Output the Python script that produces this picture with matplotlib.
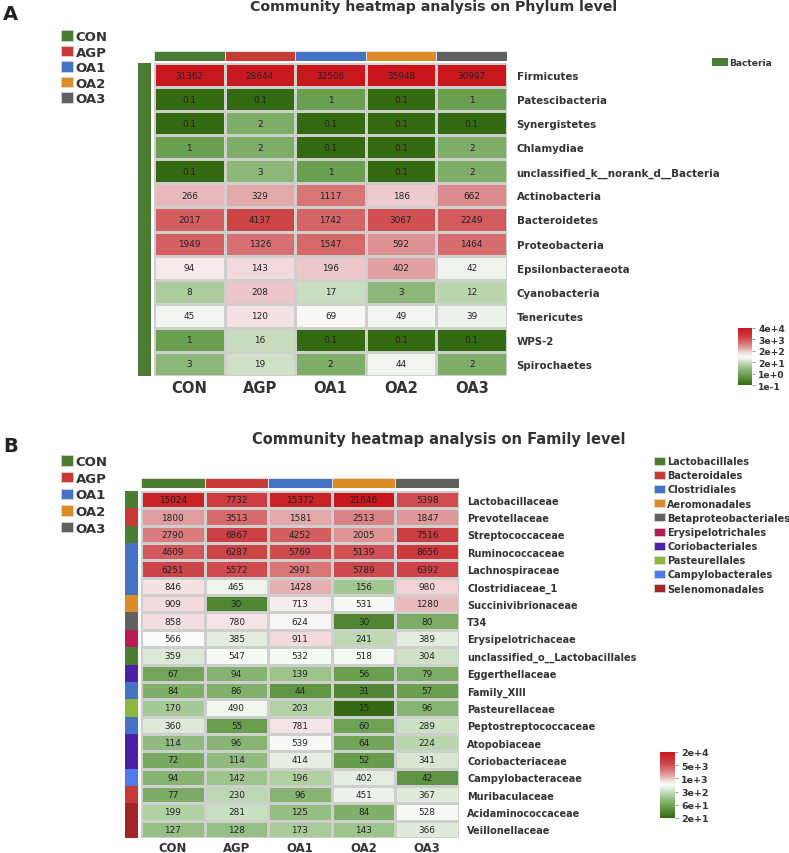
import numpy as np
import matplotlib
matplotlib.use("Agg")
import matplotlib.pyplot as plt
from matplotlib.colors import LinearSegmentedColormap, ListedColormap, LogNorm
from matplotlib.patches import Patch

# wide sans to match the horizontally stretched lettering of the original
plt.rcParams["font.family"] = ["DejaVu Sans"]

# ---- data ----
groups = ["CON", "AGP", "OA1", "OA2", "OA3"]
group_colors = ["#4a7d32", "#c83a36", "#4472c4", "#dc8c24", "#606060"]

phylum_names = ["Firmicutes", "Patescibacteria", "Synergistetes", "Chlamydiae",
                "unclassified_k__norank_d__Bacteria", "Actinobacteria", "Bacteroidetes",
                "Proteobacteria", "Epsilonbacteraeota", "Cyanobacteria", "Tenericutes",
                "WPS-2", "Spirochaetes"]
phylum_values = [
    [31362, 28644, 32506, 35948, 30997],
    [0.1, 0.1, 1, 0.1, 1],
    [0.1, 2, 0.1, 0.1, 0.1],
    [1, 2, 0.1, 0.1, 2],
    [0.1, 3, 1, 0.1, 2],
    [266, 329, 1117, 186, 662],
    [2017, 4137, 1742, 3067, 2249],
    [1949, 1326, 1547, 592, 1464],
    [94, 143, 196, 402, 42],
    [8, 208, 17, 3, 12],
    [45, 120, 69, 49, 39],
    [1, 16, 0.1, 0.1, 0.1],
    [3, 19, 2, 44, 2],
]
kingdoms = ["Bacteria"]
kingdom_colors = ["#4a7d32"]

family_names = ["Lactobacillaceae", "Prevotellaceae", "Streptococcaceae", "Ruminococcaceae",
                "Lachnospiraceae", "Clostridiaceae_1", "Succinivibrionaceae", "T34",
                "Erysipelotrichaceae", "unclassified_o__Lactobacillales", "Eggerthellaceae",
                "Family_XIII", "Pasteurellaceae", "Peptostreptococcaceae", "Atopobiaceae",
                "Coriobacteriaceae", "Campylobacteraceae", "Muribaculaceae",
                "Acidaminococcaceae", "Veillonellaceae"]
family_values = [
    [15024, 7732, 15372, 21646, 5398],
    [1800, 3513, 1581, 2513, 1847],
    [2790, 6867, 4252, 2005, 7516],
    [4609, 6287, 5769, 5139, 8656],
    [6251, 5572, 2991, 5789, 6392],
    [846, 465, 1428, 156, 980],
    [909, 30, 713, 531, 1280],
    [858, 780, 624, 30, 80],
    [566, 385, 911, 241, 389],
    [359, 547, 532, 518, 304],
    [67, 94, 139, 56, 79],
    [84, 86, 44, 31, 57],
    [170, 490, 203, 15, 96],
    [360, 55, 781, 60, 289],
    [114, 96, 539, 64, 224],
    [72, 114, 414, 52, 341],
    [94, 142, 196, 402, 42],
    [77, 230, 96, 451, 367],
    [199, 281, 125, 84, 528],
    [127, 128, 173, 143, 366],
]
orders = ["Lactobacillales", "Bacteroidales", "Clostridiales", "Aeromonadales",
          "Betaproteobacteriales", "Erysipelotrichales", "Coriobacteriales",
          "Pasteurellales", "Campylobacterales", "Selenomonadales"]
order_colors = ["#4a7d32", "#c83a36", "#4472c4", "#dc8c24", "#606060",
                "#b81c54", "#4e22a8", "#8cb840", "#4f7be8", "#a02628"]
family_order = [0, 1, 0, 2, 2, 2, 3, 4, 5, 0, 6, 2, 7, 2, 6, 6, 8, 1, 9, 9]

# ---- style ----
W, H = 789, 854
TXT = "#333333"
heat_cmap = LinearSegmentedColormap.from_list("gwr", [
    (0.00, "#346b12"), (0.18, "#6a9f50"), (0.34, "#a9cc9a"), (0.47, "#eef4ec"),
    (0.50, "#fbfbfb"), (0.57, "#f2d8da"), (0.65, "#e0a0a2"), (0.73, "#d87677"),
    (0.83, "#cd4448"), (1.00, "#c8161c")])


def add_ax(fig, x0, y0, x1, y1):
    # pixel box (from top-left) -> figure axes
    return fig.add_axes([x0 / W, 1 - y1 / H, (x1 - x0) / W, (y1 - y0) / H])


def sci(v):
    m, e = f"{v:.0e}".split("e")
    e = int(e)
    return f"{m}e{'+' if e >= 0 else '-'}{abs(e)}"


def draw_heatmap(fig, box, values, row_names, row_fs, cell_fs, col_fs, col_pad, row_pad):
    vals = np.array(values, dtype=float)
    ax = add_ax(fig, *box)
    norm = LogNorm(vmin=vals.min(), vmax=vals.max())
    mesh = ax.pcolormesh(vals, cmap=heat_cmap, norm=norm,
                         edgecolors="#cfcfcf", linewidth=0.8)
    ax.set_xlim(0, vals.shape[1])
    ax.set_ylim(vals.shape[0], 0)
    for i in range(vals.shape[0]):
        for j in range(vals.shape[1]):
            ax.text(j + 0.5, i + 0.5, f"{vals[i, j]:g}", ha="center", va="center",
                    fontsize=cell_fs, color="#222222")
    ax.set_xticks(np.arange(vals.shape[1]) + 0.5)
    ax.set_xticklabels(groups, fontsize=col_fs, fontweight="bold", color=TXT)
    ax.set_yticks(np.arange(vals.shape[0]) + 0.5)
    ax.set_yticklabels(row_names, fontsize=row_fs, fontweight="bold", color=TXT)
    ax.yaxis.tick_right()
    ax.tick_params(axis="x", length=0, pad=col_pad)
    ax.tick_params(axis="y", length=0, pad=row_pad)
    for s in ax.spines.values():
        s.set_visible(False)
    return mesh, norm


def draw_colbar(fig, box):
    ax = add_ax(fig, *box)
    ax.pcolormesh(np.arange(len(groups))[None, :], cmap=ListedColormap(group_colors),
                  vmin=-0.5, vmax=len(groups) - 0.5, edgecolors="#e0e0e0", linewidth=0.6)
    ax.set_axis_off()


def draw_rowbar(fig, box, idx, colors):
    ax = add_ax(fig, *box)
    ax.pcolormesh(np.array(idx)[:, None], cmap=ListedColormap(colors),
                  vmin=-0.5, vmax=len(colors) - 0.5)
    ax.set_ylim(len(idx), 0)
    ax.set_axis_off()


def draw_cbar(fig, box, mesh, norm, fs):
    cax = add_ax(fig, *box)
    cb = fig.colorbar(mesh, cax=cax)
    ticks = np.geomspace(norm.vmin, norm.vmax, 6)
    cb.set_ticks(ticks)
    cb.set_ticklabels([sci(t) for t in ticks])
    cb.minorticks_off()
    cb.outline.set_visible(False)
    cax.tick_params(length=2, width=0.6, color="#888888", pad=2.5,
                    labelsize=fs, labelcolor=TXT)
    for t in cax.get_yticklabels():
        t.set_fontweight("bold")


def group_legend(fig, x, y, spacing):
    handles = [Patch(facecolor=c, edgecolor="#dddddd", linewidth=0.5) for c in group_colors]
    fig.legend(handles, groups, loc="upper left", bbox_to_anchor=(x / W, 1 - y / H),
               frameon=False, prop={"weight": "bold", "size": 9.5},
               handlelength=0.9, handleheight=0.85, handletextpad=0.2,
               labelspacing=spacing, borderpad=0, borderaxespad=0, labelcolor=TXT)


fig = plt.figure(figsize=(W / 100, H / 100), dpi=100)

# ---- panel A ----
fig.text(3 / W, 1 - 14 / H, "A", fontsize=14, fontweight="bold", va="center", color="#222222")
fig.text(434 / W, 1 - 7 / H, "Community heatmap analysis on Phylum level",
         ha="center", va="center", fontsize=10.2, fontweight="bold", color=TXT)
group_legend(fig, 61, 31, 0.19)
meshA, normA = draw_heatmap(fig, (154, 64, 507, 377), phylum_values, phylum_names,
                            7.4, 6.4, 10.6, 3, 7)
draw_colbar(fig, (154, 52, 507, 62))
draw_rowbar(fig, (138, 64, 151, 377), [0] * len(phylum_names), kingdom_colors)
fig.legend([Patch(facecolor=c) for c in kingdom_colors], kingdoms, loc="upper left",
           bbox_to_anchor=(712 / W, 1 - 59 / H), frameon=False,
           prop={"weight": "bold", "size": 6.6}, handlelength=1.7, handleheight=0.9,
           handletextpad=0.2, borderpad=0, borderaxespad=0, labelcolor=TXT)
draw_cbar(fig, (738, 329, 752, 386), meshA, normA, 6.6)

# ---- panel B ----
fig.text(3 / W, 1 - 447 / H, "B", fontsize=14, fontweight="bold", va="center", color="#222222")
fig.text(439 / W, 1 - 440 / H, "Community heatmap analysis on Family level",
         ha="center", va="center", fontsize=10.5, fontweight="bold", color=TXT)
group_legend(fig, 61, 456, 0.28)
meshB, normB = draw_heatmap(fig, (141, 492, 459, 839), family_values, family_names,
                            7.0, 6.4, 8.4, 2, 6)
draw_colbar(fig, (141, 479, 459, 489))
draw_rowbar(fig, (125, 492, 138, 839), family_order, order_colors)
fig.legend([Patch(facecolor=c, edgecolor="#dddddd", linewidth=0.5) for c in order_colors],
           orders, loc="upper left", bbox_to_anchor=(654 / W, 1 - 457 / H), frameon=False,
           prop={"weight": "bold", "size": 7.0}, handlelength=1.1, handleheight=0.9,
           handletextpad=0.25, labelspacing=0.43, borderpad=0, borderaxespad=0,
           labelcolor=TXT)
draw_cbar(fig, (660, 753, 675, 819), meshB, normB, 6.8)

fig.savefig("out.png", dpi=100)
